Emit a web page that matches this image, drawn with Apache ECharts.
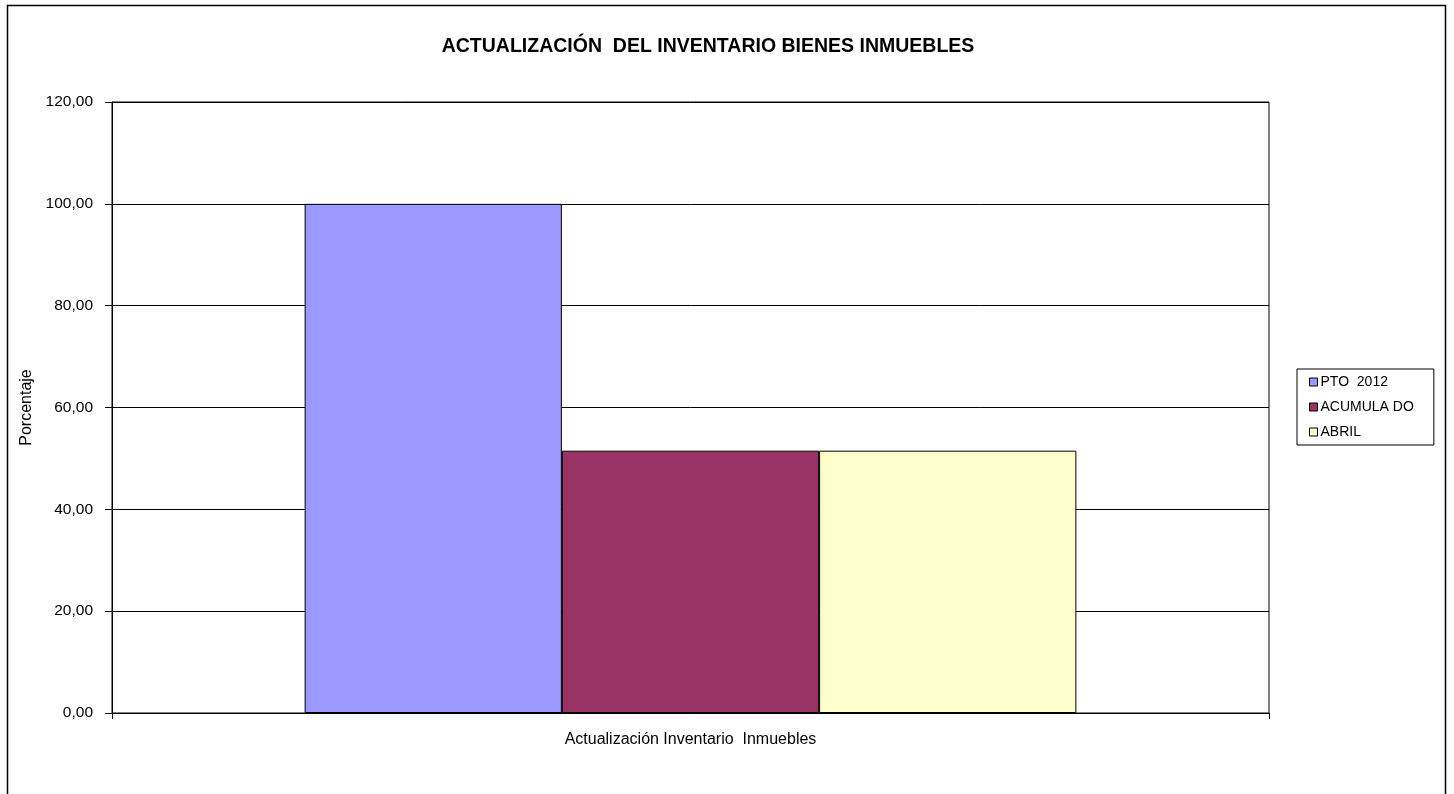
<!DOCTYPE html>
<html><head><meta charset="utf-8">
<script src="https://cdn.jsdelivr.net/npm/echarts@6/dist/echarts.min.js"></script>
<style>html,body{margin:0;padding:0;background:#fff}#c{width:1454px;height:794px}</style>
</head><body><div id="c"></div>
<script>
const categories = ['Actualización Inventario  Inmuebles'];
const seriesNames = ['PTO  2012', 'ACUMULA DO', 'ABRIL'];
const ptoValues = [100.00];
const acumuladoValues = [51.52];
const abrilValues = [51.52];
const colors = ['#9999FF', '#993366', '#FFFFCC'];

const chart = echarts.init(document.getElementById('c'));
const font = 'Liberation Sans, Arial, sans-serif';
const mk = (name, data, color) => ({
  name, type: 'bar', data, barGap: '0%', barCategoryGap: '33.3%',
  itemStyle: { color, borderColor: '#000', borderWidth: 1 }
});
chart.setOption({
  animation: false,
  textStyle: { fontFamily: font },
  title: {
    text: 'ACTUALIZACIÓN  DEL INVENTARIO BIENES INMUEBLES',
    left: 703, top: 32, textAlign: 'center',
    textStyle: { fontFamily: font, fontSize: 19.5, fontWeight: 'bold', color: '#000' }
  },
  graphic: [{
    type: 'rect', shape: { x: 7.5, y: 5.5, width: 1438, height: 820 },
    style: { fill: 'none', stroke: '#000', lineWidth: 1.5 }, silent: true
  }],
  legend: {
    orient: 'vertical', left: 1297, top: 369, width: 136,
    padding: [5, 20, 5, 12], itemGap: 9,
    itemWidth: 8, itemHeight: 8, icon: 'rect',
    borderColor: '#000', borderWidth: 1,
    textStyle: { fontFamily: font, fontSize: 14, color: '#000', padding: [0, 0, 0, -2], lineHeight: 16 },
    data: seriesNames,
    itemStyle: { borderColor: '#000', borderWidth: 1 }
  },
  grid: { left: 112, top: 102, width: 1157, height: 611, show: true, borderColor: '#000', borderWidth: 1 },
  xAxis: {
    type: 'category', data: categories,
    axisLine: { lineStyle: { color: '#000', width: 1 } },
    axisTick: { show: true, length: 6, lineStyle: { color: '#000' } },
    axisLabel: { fontFamily: font, fontSize: 16, color: '#000', margin: 19 }
  },
  yAxis: {
    type: 'value', min: 0, max: 120, interval: 20,
    name: 'Porcentaje', nameLocation: 'middle', nameGap: 77,
    nameTextStyle: { fontFamily: font, fontSize: 16, color: '#000' },
    axisLine: { show: true, lineStyle: { color: '#000' } },
    axisTick: { show: true, length: 7, lineStyle: { color: '#000' } },
    splitLine: { lineStyle: { color: '#000', width: 1 } },
    axisLabel: { fontFamily: font, fontSize: 15.5, color: '#000', margin: 19,
      formatter: v => v.toFixed(2).replace('.', ',') }
  },
  series: [
    mk(seriesNames[0], ptoValues, colors[0]),
    mk(seriesNames[1], acumuladoValues, colors[1]),
    mk(seriesNames[2], abrilValues, colors[2])
  ]
});
</script></body></html>
